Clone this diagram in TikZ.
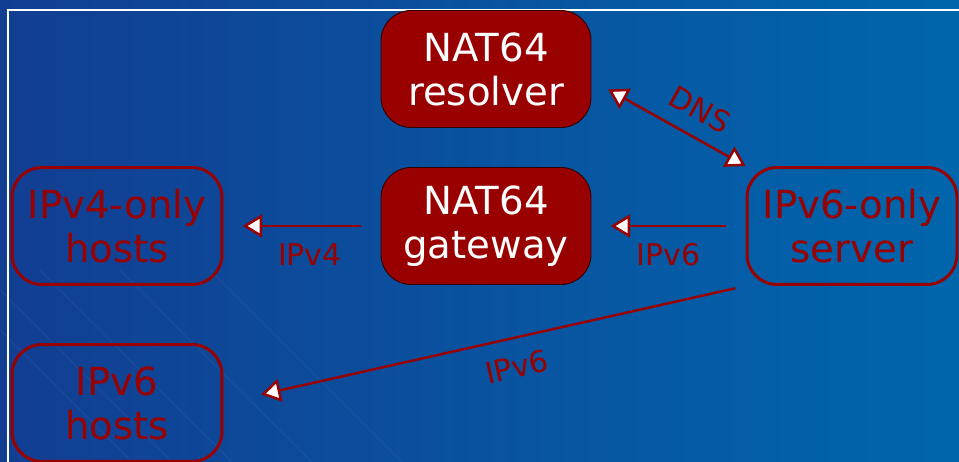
\documentclass[tikz,border=0pt]{standalone}
\usepackage{fontspec}
\setmainfont{DejaVu Sans}
\usetikzlibrary{arrows.meta}
\definecolor{nred}{HTML}{990000}
\definecolor{bgleft}{HTML}{123E92}
\definecolor{bgright}{HTML}{0066AC}
\tikzset{
  box/.style={rounded corners=0.6cm,minimum width=4.2cm,minimum height=2.34cm,align=center,
    font=\fontsize{22}{25}\selectfont,inner sep=0pt},
  natbox/.style={box,fill=nred,draw=black!70!nred,line width=0.5pt,text=white},
  hostbox/.style={box,draw=nred,line width=1.7pt,text=nred},
  tip/.style={Triangle[fill=white,length=11pt,width=13pt]},
  flow/.style={draw=nred,line width=1.4pt,-{Triangle[fill=white,length=11pt,width=13pt]}},
  flowlabel/.style={text=nred,font=\fontsize{17}{20}\selectfont}
}
\begin{document}
\begin{tikzpicture}[x=0.02cm,y=-0.02cm]
	\clip (0,0) rectangle (959,462);
	\shade[left color=bgleft,right color=bgright] (0,0) rectangle (959,462);
	\foreach \s in {-60,-20,40,120,210}\draw[white,opacity=0.05,line width=0.6pt] (\s,270)--(\s+220,490);
	\draw[white,line width=1.2pt] (8,480) |- (980,10);
	% nodes
	\node[natbox] (res) at (486,69) {NAT64\\resolver};
	\node[natbox] (gw) at (486,226) {NAT64\\gateway};
	\node[hostbox] (h4) at (117,226) {IPv4-only\\hosts};
	\node[hostbox] (srv) at (852,226) {IPv6-only\\server};
	\node[hostbox] (h6) at (117,403) {IPv6\\hosts};
	% connectors
	\draw[flow,{Triangle[fill=white,length=11pt,width=13pt]}-{Triangle[fill=white,length=11pt,width=13pt]},shorten <=11pt] (res.-6)--(srv.north west) node[flowlabel,pos=0.62,sloped,above=5pt]{DNS};
	\draw[flow,shorten <=11pt,shorten >=11pt] (srv.west)--(gw.east) node[flowlabel,midway,below=6pt]{IPv6};
	\draw[flow,shorten <=11pt,shorten >=11pt] (gw.west)--(h4.east) node[flowlabel,pos=0.45,below=6pt]{IPv4};
	\draw[flow,shorten <=6pt,shorten >=22pt] (srv.south west)--(h6.east) node[flowlabel,pos=0.45,sloped,below=6pt]{IPv6};
\end{tikzpicture}
\end{document}
